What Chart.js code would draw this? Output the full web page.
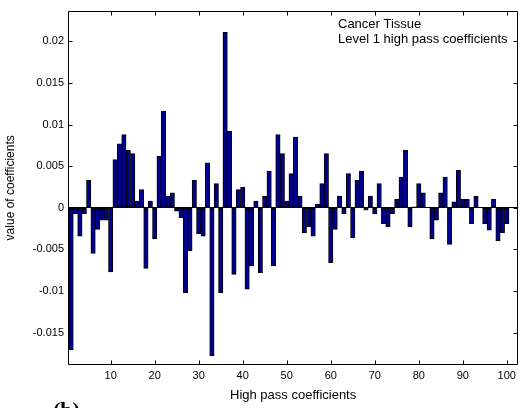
<!DOCTYPE html>
<html>
<head>
<meta charset="utf-8">
<script src="https://cdn.jsdelivr.net/npm/chart.js@4/dist/chart.umd.min.js"></script>
<style>
    html, body { margin: 0; padding: 0; background: #fff; }
    #wrap { width: 520px; height: 408px; position: relative; }
</style>
</head>
<body>
<div id="wrap"><canvas id="coeffChart"></canvas></div>
<script>
// level 1 high pass wavelet coefficients, index 1..100
const coeffIndex = Array.from({length: 100}, (_, i) => i + 1);
const coeffValues = [
    -0.0171, -0.0007, -0.0034, -0.0007,  0.0033, -0.0055, -0.0026, -0.0015, -0.0015, -0.0077,
     0.0058,  0.0077,  0.0088,  0.0069,  0.0065,  0.0008,  0.0022, -0.0073,  0.0008, -0.0037,
     0.0062,  0.0116,  0.0014,  0.0018, -0.0004, -0.0012, -0.0102, -0.0052,  0.0033, -0.0031,
    -0.0034,  0.0054, -0.0178,  0.0029, -0.0102,  0.0211,  0.0092, -0.0080,  0.0022,  0.0025,
    -0.0098, -0.0070,  0.0008, -0.0078,  0.0014,  0.0044, -0.0070,  0.0088,  0.0065,  0.0008,
     0.0041,  0.0085,  0.0014, -0.0030, -0.0023, -0.0034,  0.0004,  0.0029,  0.0065, -0.0066,
    -0.0026,  0.0014, -0.0007,  0.0041, -0.0036,  0.0033,  0.0044, -0.0003,  0.0014, -0.0007,
     0.0029, -0.0019, -0.0023, -0.0007,  0.0010,  0.0037,  0.0069, -0.0023,  0.0001,  0.0029,
     0.0018,  0.0000, -0.0037, -0.0015,  0.0018,  0.0037, -0.0044,  0.0007,  0.0045,  0.0010,
     0.0010, -0.0019,  0.0014,  0.0000, -0.0019, -0.0027,  0.0010, -0.0040, -0.0030, -0.0019
];
const xTicks = [10, 20, 30, 40, 50, 60, 70, 80, 90, 100];
const yTicks = [-0.015, -0.01, -0.005, 0, 0.005, 0.01, 0.015, 0.02];
const noteLines = ['Cancer Tissue', 'Level 1 high pass coefficients'];

const FONT = "'Liberation Sans', Arial, Helvetica, sans-serif";
const TICK_LEN = 4;

// box round the axes with inward ticks on all four sides, plus the text note
const boxPlugin = {
    id: 'boxPlugin',
    afterDraw(chart) {
        const ctx = chart.ctx;
        const a = chart.chartArea;
        const x = chart.scales.x;
        const y = chart.scales.y;
        const L = Math.round(a.left) + 0.5;
        const R = Math.round(a.right) - 0.5;
        const T = Math.round(a.top) + 0.5;
        const B = Math.round(a.bottom) - 0.5;

        ctx.save();
        ctx.strokeStyle = '#000';
        ctx.lineWidth = 1;
        ctx.beginPath();
        ctx.rect(L, T, R - L, B - T);
        for (const v of xTicks) {
            const px = Math.round(x.getPixelForValue(v)) + 0.5;
            ctx.moveTo(px, B); ctx.lineTo(px, B - TICK_LEN);
            ctx.moveTo(px, T); ctx.lineTo(px, T + TICK_LEN);
        }
        for (const v of yTicks) {
            const py = Math.round(y.getPixelForValue(v)) + 0.5;
            ctx.moveTo(L, py); ctx.lineTo(L + TICK_LEN, py);
            ctx.moveTo(R, py); ctx.lineTo(R - TICK_LEN, py);
        }
        ctx.stroke();

        ctx.fillStyle = '#000';
        ctx.font = '13px ' + FONT;
        ctx.textBaseline = 'alphabetic';
        ctx.textAlign = 'left';
        noteLines.forEach((t, i) => ctx.fillText(t, 338, 28 + i * 15));

        ctx.font = "bold 22px 'Liberation Serif', 'Times New Roman', serif";
        ctx.fillText('(b)', 53, 417);
        ctx.restore();
    }
};

const ctx = document.getElementById('coeffChart').getContext('2d');

new Chart(ctx, {
    type: 'bar',
    data: {
        datasets: [{
            data: coeffIndex.map((v, i) => ({x: v, y: coeffValues[i]})),
            backgroundColor: '#000090',
            borderColor: '#000000',
            borderWidth: 1,
            borderSkipped: false,
            barPercentage: 1,
            categoryPercentage: 1
        }]
    },
    options: {
        responsive: true,
        maintainAspectRatio: false,
        animation: false,
        devicePixelRatio: 1,
        layout: {
            padding: {top: 9, right: 1, left: 0, bottom: 0}
        },
        plugins: {
            legend: {display: false},
            tooltip: {enabled: false}
        },
        scales: {
            x: {
                type: 'linear',
                offset: false,
                min: 0.3,
                max: 102.6,
                afterBuildTicks: (scale) => { scale.ticks = xTicks.map(v => ({value: v})); },
                afterFit: (scale) => { scale.height = 43; },
                grid: {display: false, drawTicks: false},
                border: {display: false},
                ticks: {
                    color: '#000',
                    padding: 4,
                    maxRotation: 0,
                    font: {family: FONT, size: 11},
                    callback: (v) => String(v)
                },
                title: {
                    display: true,
                    text: 'High pass coefficients',
                    color: '#000',
                    font: {family: FONT, size: 13},
                    padding: {top: 0, bottom: 5}
                }
            },
            y: {
                min: -0.0189,
                max: 0.0237,
                afterBuildTicks: (scale) => { scale.ticks = yTicks.map(v => ({value: v})); },
                afterFit: (scale) => { scale.width = 68; },
                grid: {
                    drawTicks: false,
                    color: (c) => (c.tick && c.tick.value === 0 ? '#000' : 'rgba(0,0,0,0)'),
                    lineWidth: 1
                },
                border: {display: false},
                ticks: {
                    color: '#000',
                    padding: 4,
                    font: {family: FONT, size: 11},
                    callback: (v) => String(v)
                },
                title: {
                    display: true,
                    text: 'value of coefficients',
                    color: '#000',
                    font: {family: FONT, size: 12},
                    padding: {top: 3, bottom: 0}
                }
            }
        }
    },
    plugins: [boxPlugin]
});
</script>
</body>
</html>
